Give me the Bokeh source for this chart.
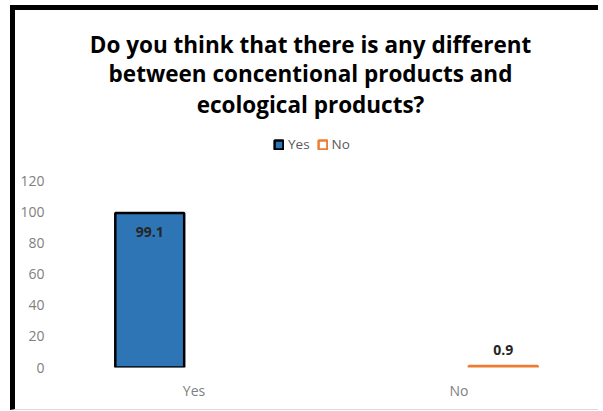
from bokeh.plotting import figure
from bokeh.models import ColumnDataSource, Range1d, FixedTicker, Legend, LegendItem, Label
from bokeh.transform import dodge
from bokeh.core.properties import value
from bokeh.embed import file_html
from bokeh.resources import INLINE

# ---- data ----
categories = ["Yes", "No"]
series_names = ["Yes", "No"]
values = [99.1, 0.9]
series_fill = ["#2E75B6", "#FFFFFF"]
series_line = ["#000000", "#ED7D31"]
y_ticks = [0, 20, 40, 60, 80, 100, 120]
title_lines = ["Do you think that there is any different",
               "between concentional products and",
               "ecological products?"]

FONT = "Open Sans"
offsets = [-0.167, 0.167]

p = figure(width=588, height=405, x_range=categories, y_range=Range1d(0, 229.1),
           output_backend="svg", toolbar_location=None, title=None,
           min_border_left=46, min_border_right=12, min_border_top=0, min_border_bottom=48)
p.styles = {"border-top": "5px solid black", "border-left": "5px solid black",
            "border-bottom": "1px solid #d9d9d9", "margin-left": "10px", "margin-top": "5px"}

# title lines as screen-positioned labels (x from frame left, y up from frame bottom)
title_baselines = [323.5, 294, 263.5]
for line, yb in zip(title_lines, title_baselines):
    p.add_layout(Label(text=line, x=249, y=yb, x_units="screen", y_units="screen",
                       text_align="center", text_baseline="alphabetic",
                       text_font=FONT, text_font_size="22.5px", text_font_style="bold",
                       text_color="#000000"))

p.background_fill_color = "white"
p.border_fill_color = "white"
p.outline_line_color = None
p.xgrid.grid_line_color = None
p.ygrid.grid_line_color = None

items = []
for i, name in enumerate(series_names):
    src = ColumnDataSource(dict(x=[categories[i]], top=[values[i]], lab=[f"{values[i]}"]))
    r = p.vbar(x=dodge("x", offsets[i], range=p.x_range), top="top", width=0.26, bottom=0,
               source=src, fill_color=series_fill[i], line_color=series_line[i], line_width=2.5)
    items.append(LegendItem(label=name, renderers=[r], index=0))
    inside = values[i] > 10
    p.text(x=dodge("x", offsets[i], range=p.x_range), y="top", text="lab", source=src,
           text_font=value(FONT), text_font_size="14px", text_font_style="bold",
           text_color="#262626", text_align="center", text_baseline="middle",
           y_offset=18.5 if inside else -16)

legend = Legend(items=items, orientation="horizontal", location=(212, 214),
                glyph_width=11, glyph_height=11, label_standoff=4, spacing=7,
                padding=0, margin=0, border_line_color=None, background_fill_alpha=0,
                label_text_font=FONT, label_text_font_size="13.5px", label_text_color="#595959")
p.add_layout(legend)

p.yaxis.ticker = FixedTicker(ticks=y_ticks)
for ax in (p.xaxis, p.yaxis):
    ax.axis_line_color = None
    ax.major_tick_line_color = None
    ax.minor_tick_line_color = None
    ax.major_label_text_font = FONT
    ax.major_label_text_font_size = "14px"
    ax.major_label_text_color = "#808080"
p.yaxis.major_label_standoff = 11
p.xaxis.major_label_standoff = 7

open("out.html", "w").write(file_html(p, INLINE))
